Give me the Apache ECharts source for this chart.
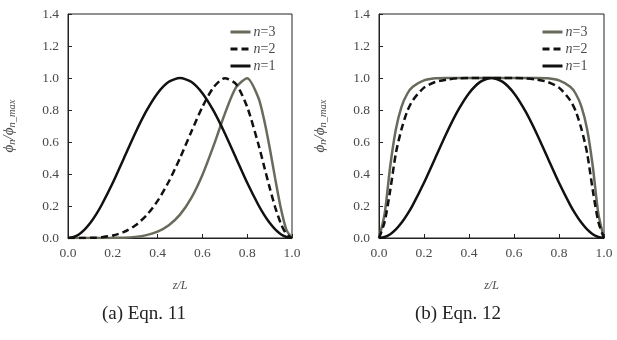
<!DOCTYPE html>
<html>
<head>
<meta charset="utf-8">
<script src="https://cdn.jsdelivr.net/npm/echarts@6/dist/echarts.min.js"></script>
<style>html,body{margin:0;padding:0;background:#fff;}#c{width:617px;height:340px;}</style>
</head>
<body>
<div id="c"></div>
<script>
// shared z/L sample positions
var zValues = [0, 0.025, 0.05, 0.075, 0.1, 0.125, 0.15, 0.2, 0.25, 0.3, 0.35, 0.4, 0.45, 0.5,
  0.55, 0.6, 0.65, 0.7, 0.75, 0.8, 0.85, 0.875, 0.9, 0.925, 0.95, 0.975, 1];

// (a) Eqn. 11
var a_n1 = [0, 0.006, 0.024, 0.054, 0.095, 0.146, 0.206, 0.345, 0.5, 0.655, 0.794, 0.905, 0.976, 1.0,
  0.976, 0.905, 0.794, 0.655, 0.5, 0.345, 0.206, 0.146, 0.095, 0.054, 0.024, 0.006, 0];
var a_n2 = [0, 0, 0, 0, 0.001, 0.002, 0.005, 0.016, 0.038, 0.078, 0.141, 0.232, 0.353, 0.5,
  0.662, 0.819, 0.942, 0.999, 0.962, 0.819, 0.586, 0.451, 0.316, 0.192, 0.091, 0.024, 0];
var a_n3 = [0, 0, 0, 0, 0, 0, 0, 0.001, 0.002, 0.007, 0.018, 0.040, 0.080, 0.146,
  0.249, 0.394, 0.577, 0.776, 0.941, 0.999, 0.877, 0.742, 0.567, 0.371, 0.187, 0.051, 0];

// (b) Eqn. 12
var b_n1 = [0, 0.006, 0.024, 0.054, 0.095, 0.146, 0.206, 0.345, 0.5, 0.655, 0.794, 0.905, 0.976, 1.0,
  0.976, 0.905, 0.794, 0.655, 0.5, 0.345, 0.206, 0.146, 0.095, 0.054, 0.024, 0.006, 0];
var b_n2 = [0, 0.1, 0.3, 0.53, 0.68, 0.79, 0.86, 0.94, 0.975, 0.99, 0.998, 1.0, 1.0, 1.0,
  1.0, 1.0, 0.998, 0.99, 0.975, 0.94, 0.86, 0.79, 0.68, 0.53, 0.3, 0.1, 0];
var b_n3 = [0, 0.15, 0.45, 0.68, 0.82, 0.9, 0.945, 0.985, 0.998, 1.0, 1.0, 1.0, 1.0, 1.0,
  1.0, 1.0, 1.0, 1.0, 0.998, 0.985, 0.945, 0.9, 0.82, 0.68, 0.45, 0.15, 0];

var seriesNames = ['n=3', 'n=2', 'n=1'];
var xTicks = [0, 0.2, 0.4, 0.6, 0.8, 1.0];
var yTicks = [0, 0.2, 0.4, 0.6, 0.8, 1.0, 1.2, 1.4];
var captions = ['(a) Eqn. 11', '(b) Eqn. 12'];

var FONT = 'Liberation Serif';
var TXT = '#4a4a4a';
function pairs(vals) { return zValues.map(function (z, i) { return [z, vals[i]]; }); }

var grids = [
  { left: 68, top: 14, width: 224, height: 224 },
  { left: 379, top: 14, width: 225, height: 224 }
];

function xAxisFor(i) {
  return {
    gridIndex: i, type: 'value', min: xTicks[0], max: xTicks[xTicks.length - 1], interval: 0.2,
    name: 'z/L', nameLocation: 'middle', nameGap: 42,
    nameTextStyle: { fontFamily: FONT, fontStyle: 'italic', fontSize: 12, color: TXT },
    axisLine: { show: true, lineStyle: { color: '#222', width: 1 } },
    axisTick: { show: true, inside: true, length: 4, lineStyle: { color: '#222' } },
    splitLine: { show: false },
    axisLabel: { fontFamily: FONT, fontSize: 13.5, color: TXT, margin: 8,
      formatter: function (v) { return v.toFixed(1); } }
  };
}
function yAxisFor(i) {
  return {
    gridIndex: i, type: 'value', min: yTicks[0], max: yTicks[yTicks.length - 1], interval: 0.2,
    name: '{i|\u03d5}{s|n}{i|/\u03d5}{s|n_max}', nameLocation: 'middle', nameGap: 50, nameRotate: 90,
    nameTextStyle: { fontFamily: FONT, color: TXT,
      rich: {
        i: { fontFamily: FONT, fontStyle: 'italic', fontSize: 15, color: TXT },
        s: { fontFamily: FONT, fontStyle: 'italic', fontSize: 10.5, color: TXT, padding: [7, 0, 0, 0] }
      } },
    axisLine: { show: true, lineStyle: { color: '#222', width: 1 } },
    axisTick: { show: true, inside: true, length: 4, lineStyle: { color: '#222' } },
    splitLine: { show: false },
    axisLabel: { fontFamily: FONT, fontSize: 13.5, color: TXT, margin: 9,
      formatter: function (v) { return v.toFixed(1); } }
  };
}

var styles = {
  'n=3': { color: '#6a6a5c', type: 'solid' },
  'n=2': { color: '#111111', type: [7, 4] },
  'n=1': { color: '#111111', type: 'solid' }
};
function makeSeries(name, vals, gi) {
  return {
    name: name, type: 'line', xAxisIndex: gi, yAxisIndex: gi, data: pairs(vals),
    symbol: 'none', showSymbol: false, smooth: 0.25, animation: false,
    lineStyle: { color: styles[name].color, width: 2.5, type: styles[name].type },
    itemStyle: { color: styles[name].color }
  };
}

function legendFor(left) {
  return {
    data: seriesNames, orient: 'vertical', left: left, top: 20,
    itemWidth: 20, itemHeight: 14, itemGap: 3,
    selectedMode: false,
    itemStyle: { opacity: 0, borderWidth: 0 },
    lineStyle: { width: 3 },
    formatter: function (name) { return '{i|n}' + name.slice(1); },
    textStyle: { fontFamily: FONT, fontSize: 14, color: TXT, padding: [0, 0, 0, -2],
      rich: { i: { fontFamily: FONT, fontStyle: 'italic', fontSize: 14, color: TXT } } }
  };
}

var option = {
  backgroundColor: '#fff',
  animation: false,
  grid: grids.map(function (g) {
    return Object.assign({ show: true, borderColor: '#222', borderWidth: 1, backgroundColor: 'transparent' }, g);
  }),
  xAxis: [xAxisFor(0), xAxisFor(1)],
  yAxis: [yAxisFor(0), yAxisFor(1)],
  legend: [legendFor(224), legendFor(536)],
  title: [
    { text: captions[0], left: 139, top: 300, textAlign: 'center',
      textStyle: { fontFamily: FONT, fontWeight: 'normal', fontSize: 19, color: '#222' } },
    { text: captions[1], left: 453, top: 300, textAlign: 'center',
      textStyle: { fontFamily: FONT, fontWeight: 'normal', fontSize: 19, color: '#222' } }
  ],
  series: [
    makeSeries('n=3', a_n3, 0), makeSeries('n=2', a_n2, 0), makeSeries('n=1', a_n1, 0),
    makeSeries('n=3', b_n3, 1), makeSeries('n=2', b_n2, 1), makeSeries('n=1', b_n1, 1)
  ]
};

var chart = echarts.init(document.getElementById('c'), null, { renderer: 'canvas' });
chart.setOption(option);
</script>
</body>
</html>
